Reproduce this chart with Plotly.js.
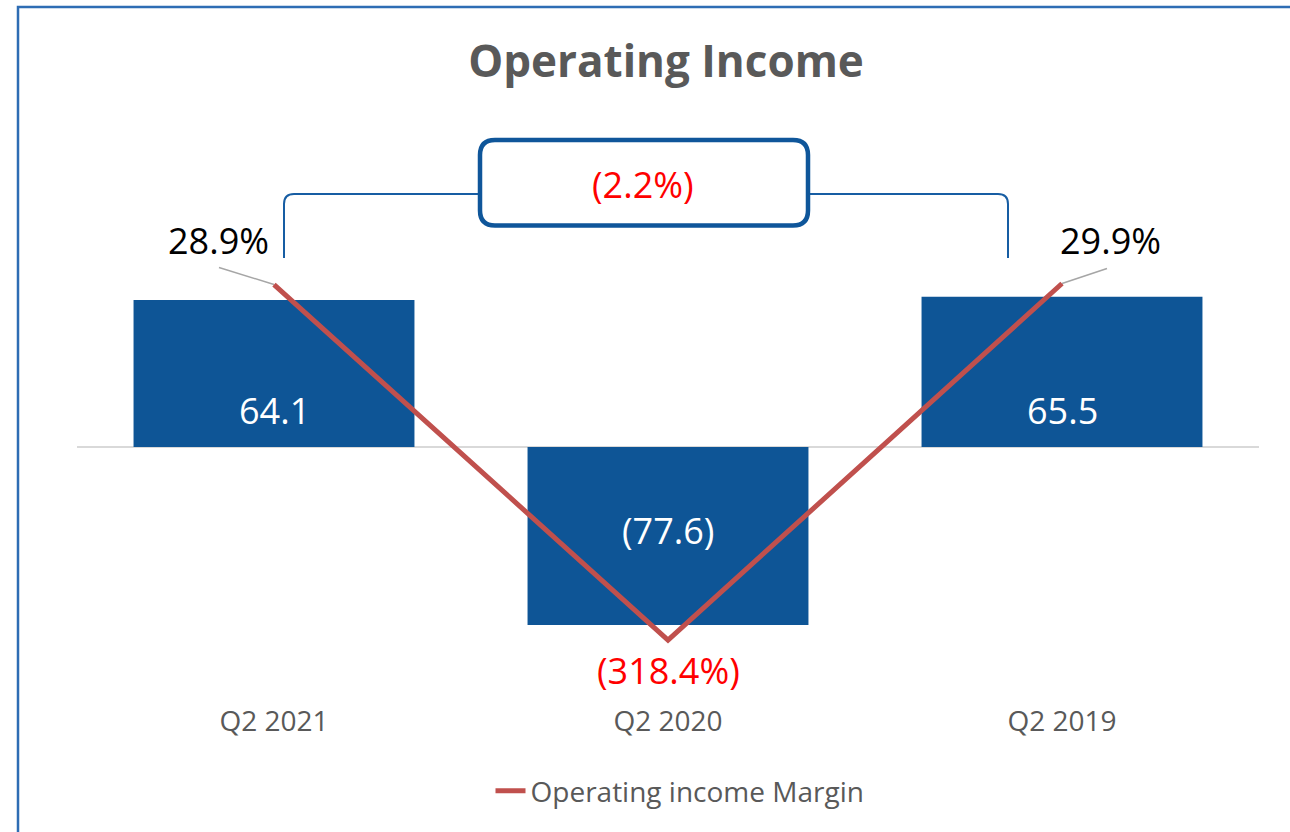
<!DOCTYPE html>
<html>
<head>
<meta charset="utf-8">
<script src="https://cdn.plot.ly/plotly-3.0.1.min.js"></script>
<style>html,body{margin:0;padding:0;background:#fff;}#chart{width:1290px;height:832px;}</style>
</head>
<body>
<div id="chart"></div>
<script>
// ---- data ----
const categories = ["Q2 2021", "Q2 2020", "Q2 2019"];
const operatingIncome = [64.1, -77.6, 65.5];
const operatingMargin = [28.9, -318.4, 29.9];
const changeLabel = "(2.2%)";
const marginName = "Operating income Margin";
const chartTitle = "Operating Income";

// ---- layout geometry (pixels) ----
const W = 1290, H = 832;
const M = {l: 77, r: 31, t: 110, b: 137};
const PW = W - M.l - M.r, PH = H - M.t - M.b;
const px = x => (x - M.l) / PW;
const py = y => (H - M.b - y) / PH;

const FONT = '"Open Sans", "Noto Sans", sans-serif';
const GREY = '#595959';
const BAR = '#0E5596';
const LINE = '#C0504D';
const BLUE = '#175DA3';

const fmtNum = v => v < 0 ? '(' + Math.abs(v).toFixed(1) + ')' : v.toFixed(1);
const fmtPct = v => v < 0 ? '(' + Math.abs(v).toFixed(1) + '%)' : v.toFixed(1) + '%';

const traces = [
  {
    type: 'bar', x: categories, y: operatingIncome, width: 0.713,
    marker: {color: BAR, line: {width: 0}}, showlegend: false, hoverinfo: 'skip'
  },
  {
    type: 'scatter', mode: 'lines', x: categories, y: operatingMargin, yaxis: 'y2',
    name: marginName, line: {color: LINE, width: 5}, hoverinfo: 'skip'
  }
];

const annotations = [];
operatingIncome.forEach((v, i) => {
  annotations.push({
    x: categories[i], y: v > 0 ? 0 : v / 2, xref: 'x', yref: 'y',
    text: fmtNum(v), showarrow: false, yanchor: 'middle',
    yshift: v > 0 ? 37 : 5,
    font: {family: FONT, size: 36, color: '#FFFFFF'}
  });
});
const labelShift = [[-56, 44], [0, -30], [48, 43]];
operatingMargin.forEach((v, i) => {
  annotations.push({
    x: categories[i], y: v, xref: 'x', yref: 'y2',
    text: fmtPct(v), showarrow: false, yanchor: 'middle',
    xshift: labelShift[i][0], yshift: labelShift[i][1],
    font: {family: FONT, size: 36, color: v < 0 ? '#FF0000' : '#000000'}
  });
});
annotations.push({
  x: px(643), y: py(184), xref: 'paper', yref: 'paper', text: changeLabel,
  showarrow: false, yanchor: 'middle',
  font: {family: FONT, size: 36, color: '#FF0000'}
});

const shapes = [];
// outer frame
shapes.push({type: 'rect', xref: 'paper', yref: 'paper',
  x0: px(18), x1: px(1305), y0: py(845), y1: py(7),
  line: {color: '#2E6DB4', width: 2.5}, fillcolor: 'rgba(0,0,0,0)', layer: 'above'});
// leader lines from margin points to labels
const leader = [[-55, 17], null, [45, 15]];
operatingMargin.forEach((v, i) => {
  if (!leader[i]) return;
  shapes.push({type: 'line', xref: 'x', yref: 'y2', xsizemode: 'pixel', ysizemode: 'pixel',
    xanchor: i, yanchor: v, x0: 0, y0: 0, x1: leader[i][0], y1: leader[i][1],
    line: {color: '#A6A6A6', width: 1.5}, layer: 'below'});
});
// bracket
const r = 10;
function P(x, y) { return px(x).toFixed(5) + ',' + py(y).toFixed(5); }
shapes.push({type: 'path', xref: 'paper', yref: 'paper', layer: 'above',
  path: 'M' + P(284, 258) + ' L' + P(284, 194 + r) + ' Q' + P(284, 194) + ' ' + P(284 + r, 194) + ' L' + P(480, 194),
  line: {color: BLUE, width: 2}});
shapes.push({type: 'path', xref: 'paper', yref: 'paper', layer: 'above',
  path: 'M' + P(808, 194) + ' L' + P(1008 - r, 194) + ' Q' + P(1008, 194) + ' ' + P(1008, 194 + r) + ' L' + P(1008, 258),
  line: {color: BLUE, width: 2}});
// rounded box
const bx0 = 480, bx1 = 808, by0 = 140, by1 = 225.5, br = 15;
shapes.push({type: 'path', xref: 'paper', yref: 'paper', layer: 'above',
  path: 'M' + P(bx0 + br, by0) + ' L' + P(bx1 - br, by0) + ' Q' + P(bx1, by0) + ' ' + P(bx1, by0 + br) +
        ' L' + P(bx1, by1 - br) + ' Q' + P(bx1, by1) + ' ' + P(bx1 - br, by1) +
        ' L' + P(bx0 + br, by1) + ' Q' + P(bx0, by1) + ' ' + P(bx0, by1 - br) +
        ' L' + P(bx0, by0 + br) + ' Q' + P(bx0, by0) + ' ' + P(bx0 + br, by0) + ' Z',
  line: {color: '#0F569A', width: 4.5}, fillcolor: '#FFFFFF'});

const pxPerUnit = 2.293, zero1 = 447;
const pxPerPct = 1.0236, zero2 = 314.1;
const layout = {
  width: W, height: H, margin: M,
  paper_bgcolor: '#FFFFFF', plot_bgcolor: '#FFFFFF',
  title: {text: '<b>' + chartTitle + '</b>', x: px(666), xref: 'paper', xanchor: 'center',
    y: 1 - 62 / H, yanchor: 'middle',
    font: {family: FONT, size: 44, color: GREY}},
  xaxis: {type: 'category', range: [-0.5, 2.5], showgrid: false, showline: false, zeroline: false,
    ticks: '', tickfont: {family: FONT, size: 28, color: GREY}, ticklabelstandoff: 7},
  yaxis: {range: [-(H - M.b - zero1) / pxPerUnit, (zero1 - M.t) / pxPerUnit],
    showgrid: false, showticklabels: false, ticks: '', showline: false,
    zeroline: true, zerolinecolor: '#D9D9D9', zerolinewidth: 1.5},
  yaxis2: {overlaying: 'y', side: 'right',
    range: [-(H - M.b - zero2) / pxPerPct, (zero2 - M.t) / pxPerPct],
    showgrid: false, showticklabels: false, ticks: '', showline: false, zeroline: false},
  showlegend: true,
  legend: {orientation: 'h', x: px(680), xanchor: 'center', y: py(791), yanchor: 'middle',
    font: {family: FONT, size: 28, color: GREY}, bgcolor: 'rgba(0,0,0,0)'},
  annotations: annotations,
  shapes: shapes
};

Plotly.newPlot('chart', traces, layout, {displayModeBar: false, staticPlot: true});
</script>
</body>
</html>
